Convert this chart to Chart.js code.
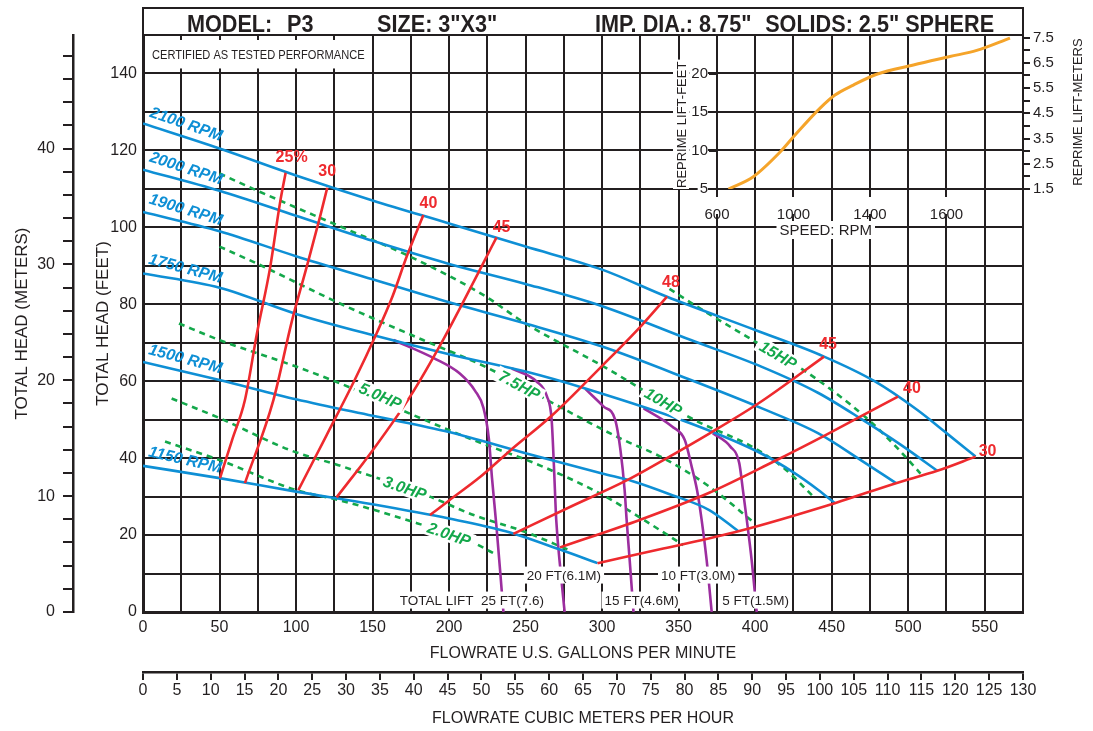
<!DOCTYPE html>
<html lang="en">
<head>
<meta charset="utf-8">
<title>P3 performance curve</title>
<script src="https://cdn.jsdelivr.net/npm/chart.js@4.4.1/dist/chart.umd.min.js"></script>
<style>
  html, body { margin: 0; padding: 0; background: #fff; }
  #wrap { position: relative; width: 1093px; height: 731px; }
  canvas { position: absolute; top: 0; }
  #main { left: 0; }
  #inset { left: 640px; }
</style>
</head>
<body>
<div id="wrap">
  <canvas id="main" width="1093" height="731"></canvas>
  <canvas id="inset" width="453" height="250"></canvas>
</div>
<script>
// values, [gpm, total head ft]
const rpm2100 = [[0,127],[50,120.5],[100,113.5],[150,107],[200,101],[250,95],[300,89],[342,82],[400,73.3],[445,66.4],[478,60],[506,52.5],[525,46.5],[544,40.4]];
const rpm2000 = [[0,115],[50,109.5],[100,103],[150,96.5],[200,90.5],[250,85.3],[300,79.5],[358,70.7],[404,63.8],[441,57],[470,50],[495,43.5],[519,36.7]];
const rpm1900 = [[0,104],[50,99],[100,92.5],[150,86.5],[200,80.5],[250,75],[300,69],[358,60.3],[404,53],[441,46.5],[469,39.5],[492,33.5]];
const rpm1750 = [[0,88],[50,84.3],[100,77.5],[150,72],[200,67],[250,62.5],[289,58.1],[358,49],[404,41.2],[425,36.3],[441,31.8],[452,28.3]];
const rpm1500 = [[0,65],[50,60.3],[100,55.3],[150,51],[200,46.8],[250,41.3],[300,36],[320,34],[345,30.5],[370,26.5],[389,21]];
const rpm1150 = [[0,38],[50,34.8],[100,31.3],[150,28],[200,24.3],[237,21],[272,16.3],[297,12.7]];

const eff25a = [[50.3,34.8],[58.2,44.7],[66.6,55.1],[74.5,72.5],[83,89.4],[89.5,106.3],[93.2,114.2]];
const eff30a = [[66.6,33.5],[85.2,55.1],[97.2,75.5],[107,89.8],[115.7,102.8],[120.4,110.3]];
const eff40a = [[101.5,31.7],[120,46],[138.3,60.3],[152.6,72.4],[163,82],[172.3,92.4],[183.2,103.2]];
const eff45a = [[126.5,29.8],[150,42],[174.5,56],[196,70.7],[220,88.9],[231,97.4]];
const eff48 = [[187.5,25.2],[200,29],[220,35],[240,42],[267,51],[300,64],[326,74.6],[342.4,82]];
const eff45b = [[242,20.3],[280,27.5],[315,34],[340,39.5],[370,46.4],[402,54.2],[445,66.4]];
const eff40b = [[272.5,16.8],[325,24],[370,31],[411.5,39],[446,46],[493.3,56]];
const eff30b = [[297,12.7],[340,16.5],[389,21],[452,28.3],[492,33.5],[519,36.7],[544,40.4]];

const hp15 = [[344,84],[362,79.4],[400,70.3],[430,63.3],[450,57.7],[474,50],[492,43],[508,36]];
const hp10 = [[50,114],[72,110],[129,100.2],[174.5,92.4],[222,82.5],[250,75],[301,63.8],[358.5,50.3],[400,42.5],[420,37],[438,30]];
const hp75 = [[50,95],[76.5,90.2],[128.7,80.2],[183,70.7],[225,63.5],[264,55.1],[312,45.1],[340,40],[370,32.6],[400,23]];
const hp5 = [[23.5,75],[50,70.7],[100,63.8],[129,59.4],[170,52.3],[216,44.7],[260,38],[300,30.5],[327,24],[353,17.4]];
const hp3 = [[18.7,55.5],[50,50.4],[96,42.1],[129,38],[187.5,30],[216,25.2],[248.5,21],[279,16]];
const hp2 = [[14.4,44.3],[50,39.5],[100,31.7],[129,29],[179,23.1],[216,18],[229,15.3]];

const lift25 = [[163.6,70.7],[190,66],[207,62],[217,57.5],[222.5,53],[226,45],[228,35],[231,22],[233.5,10],[235.5,0]];
const lift20 = [[241,63.3],[257,60],[264,56],[267,50],[268.5,38],[270,24],[273,10],[275.5,0]];
const lift15 = [[289,58],[301,53.4],[308.5,50],[312,42],[314.7,31.7],[316,24],[318,13.5],[320.5,0]];
const lift10 = [[327,53],[345.7,48.2],[354,44.7],[358.5,37.8],[362,31.7],[365,24],[368.3,13.5],[371.6,0]];
const lift5 = [[372.3,46.5],[383.8,43],[389.6,38.7],[392,31.7],[394.5,24],[397.7,13.5],[401,0]];

// reprime lift inset
const insetRpm = [660,790,930,1008,1139,1217,1313,1435,1627,1818,1958,2132];
const insetLift = [5,6.6,9.8,12.0,15.5,17.2,18.5,19.9,21.1,22.2,23.0,24.6];
const insetSpeedTicks = [600,1000,1400,1800];
const insetSpeedLabels = ['600','1000','1400','1600'];
const insetFeetTicks = [5,10,15,20];
const insetMeterTicks = [1.5,2,2.5,3,3.5,4,4.5,5,5.5,6,6.5,7,7.5];

const titleParts = [['MODEL:', 0.05], ['P3', 0.1636], ['SIZE: 3"X3"', 0.266], ['IMP. DIA.: 8.75"', 0.5136], ['SOLIDS: 2.5" SPHERE', 0.707]];
const certText = 'CERTIFIED AS TESTED PERFORMANCE';

const INK = '#231f20';
const BLUE = '#0e8fd5';
const RED = '#ee2a2e';
const GREEN = '#14a84b';
const PURPLE = '#9c2e9f';
const ORANGE = '#f5a42a';
const FONT = "'Liberation Sans', Arial, Helvetica, sans-serif";

Chart.defaults.font.family = FONT;
Chart.defaults.color = INK;

const rpmCurves = [
  { text: '2100 RPM', data: rpm2100, rot: 19 },
  { text: '2000 RPM', data: rpm2000, rot: 18 },
  { text: '1900 RPM', data: rpm1900, rot: 17 },
  { text: '1750 RPM', data: rpm1750, rot: 15 },
  { text: '1500 RPM', data: rpm1500, rot: 15 },
  { text: '1150 RPM', data: rpm1150, rot: 13 }
];
const effCurves = [
  { text: '25%', data: eff25a, dx: 6, dy: -15 },
  { text: '30', data: eff30a, dx: 0, dy: -16 },
  { text: '40', data: eff40a, dx: 5, dy: -11 },
  { text: '45', data: eff45a, dx: 5, dy: -10 },
  { text: '48', data: eff48, dx: 4, dy: -14 },
  { text: '45', data: eff45b, dx: 4, dy: -12 },
  { text: '40', data: eff40b, dx: 14, dy: -8 },
  { text: '30', data: eff30b, dx: 12, dy: -5 }
];
const hpCurves = [
  { text: '15HP', data: hp15, at: 415 },
  { text: '10HP', data: hp10, at: 340 },
  { text: '7.5HP', data: hp75, at: 246 },
  { text: '5.0HP', data: hp5, at: 155, dy: -5 },
  { text: '3.0HP', data: hp3, at: 171 },
  { text: '2.0HP', data: hp2, at: 200 }
];
const liftCurves = [
  { text: '25 FT(7.6)', prefix: 'TOTAL LIFT  ', data: lift25, row: 3.1, dx: 10 },
  { text: '20 FT(6.1M)', data: lift20, row: 9.6, dx: 3 },
  { text: '15 FT(4.6M)', data: lift15, row: 3.1, dx: 9 },
  { text: '10 FT(3.0M)', data: lift10, row: 9.6, dx: -10 },
  { text: '5 FT(1.5M)', data: lift5, row: 3.1, dx: 0 }
];

const toXY = a => a.map(p => ({ x: p[0], y: p[1] }));

function headAt(data, g) {
  for (let i = 1; i < data.length; i++) {
    const [x0, y0] = data[i - 1], [x1, y1] = data[i];
    if (g <= x1) return y0 + (y1 - y0) * (g - x0) / (x1 - x0);
  }
  return data[data.length - 1][1];
}

function gpmAtHead(data, h) {
  for (let i = 1; i < data.length; i++) {
    const [x0, y0] = data[i - 1], [x1, y1] = data[i];
    if ((y0 - h) * (y1 - h) <= 0) return x0 + (x1 - x0) * (h - y0) / (y1 - y0);
  }
  return data[data.length - 1][0];
}

const line = (data, color, order, extra) => Object.assign({
  data: toXY(data), showLine: true, borderColor: color, borderWidth: 2.6,
  pointRadius: 0, pointHoverRadius: 0, fill: false,
  cubicInterpolationMode: 'monotone', order
}, extra);

const datasets = [
  ...effCurves.map(c => line(c.data, RED, 0)),
  ...rpmCurves.map(c => line(c.data, BLUE, 1)),
  ...liftCurves.map(c => line(c.data, PURPLE, 2)),
  ...hpCurves.map(c => line(c.data, GREEN, 3, { borderDash: [6, 5], borderWidth: 2.6 }))
];

const curveLabels = {
  id: 'curveLabels',
  beforeDatasetsDraw(chart) {
    const { ctx } = chart;
    const sx = chart.scales.x, sy = chart.scales.y;
    const l = sx.getPixelForValue(0) + 2, r = sx.getPixelForValue(150) - 1;
    const t = sy.getPixelForValue(150) + 5, b = sy.getPixelForValue(140) - 5;
    ctx.save();
    ctx.fillStyle = '#fff';
    ctx.fillRect(l, t, r - l, b - t);
    ctx.font = '13px ' + FONT;
    const w = ctx.measureText(certText).width;
    const k = Math.min(1, (r - l - 14) / w);
    ctx.translate((l + r) / 2, (t + b) / 2);
    ctx.scale(k, 1);
    ctx.fillStyle = INK;
    ctx.textAlign = 'center';
    ctx.textBaseline = 'middle';
    ctx.fillText(certText, 0, 1);
    ctx.restore();
  },
  afterDatasetsDraw(chart) {
    const { ctx } = chart;
    const sx = chart.scales.x, sy = chart.scales.y;
    const P = (g, h) => [sx.getPixelForValue(g), sy.getPixelForValue(h)];
    ctx.save();
    ctx.textAlign = 'center';
    ctx.textBaseline = 'middle';

    ctx.font = 'italic bold 16px ' + FONT;
    ctx.fillStyle = BLUE;
    rpmCurves.forEach(c => {
      const [x, y] = P(25, headAt(c.data, 25));
      ctx.save();
      ctx.translate(x + 1, y);
      ctx.rotate(c.rot * Math.PI / 180);
      ctx.fillText(c.text, 0, -12);
      ctx.restore();
    });

    hpCurves.forEach(c => {
      const [x0, y0] = P(c.at - 8, headAt(c.data, c.at - 8));
      const [x1, y1] = P(c.at + 8, headAt(c.data, c.at + 8));
      const [x, y] = P(c.at, headAt(c.data, c.at));
      const w = ctx.measureText(c.text).width;
      ctx.save();
      ctx.translate(x, y + (c.dy || 0));
      ctx.rotate(Math.atan2(y1 - y0, x1 - x0));
      ctx.fillStyle = '#fff';
      ctx.fillRect(-w / 2 - 4, -8, w + 8, 16);
      ctx.fillStyle = GREEN;
      ctx.fillText(c.text, 0, 1);
      ctx.restore();
    });

    ctx.font = 'bold 16px ' + FONT;
    ctx.fillStyle = RED;
    effCurves.forEach(c => {
      const p = c.data[c.data.length - 1];
      const [x, y] = P(p[0], p[1]);
      ctx.fillText(c.text, x + c.dx, y + c.dy);
    });

    ctx.font = '13.5px ' + FONT;
    ctx.textAlign = 'left';
    liftCurves.forEach(c => {
      const [x, y] = P(gpmAtHead(c.data, c.row), c.row);
      const w = ctx.measureText(c.text).width;
      const pw = c.prefix ? ctx.measureText(c.prefix).width : 0;
      const left = x + c.dx - w / 2 - pw;
      ctx.fillStyle = '#fff';
      ctx.fillRect(left - 3, y - 8.5, w + pw + 6, 17);
      ctx.fillStyle = INK;
      ctx.fillText((c.prefix || '') + c.text, left, y + 1);
    });
    ctx.restore();
  }
};

const titleBox = {
  id: 'titleBox',
  afterDraw(chart) {
    const { ctx, chartArea: a } = chart;
    const top = 8;
    ctx.save();
    ctx.strokeStyle = INK;
    ctx.lineWidth = 2;
    ctx.strokeRect(a.left, top, a.right - a.left, a.top - top);
    ctx.fillStyle = INK;
    ctx.font = 'bold 23px ' + FONT;
    ctx.textBaseline = 'alphabetic';
    titleParts.forEach(([text, f]) => {
      ctx.save();
      ctx.translate(a.left + f * (a.right - a.left), 32);
      ctx.scale(0.94, 1);
      ctx.fillText(text, 0, 0);
      ctx.restore();
    });
    ctx.restore();
  }
};

const gridDark = { color: INK, lineWidth: 2 };

new Chart(document.getElementById('main'), {
  type: 'scatter',
  data: { datasets },
  options: {
    responsive: false,
    animation: false,
    events: [],
    layout: { padding: { top: 35, right: 70, bottom: 0, left: 0 } },
    plugins: { legend: { display: false }, tooltip: { enabled: false } },
    scales: {
      x: {
        type: 'linear', position: 'bottom', min: 0, max: 575, weight: 0,
        afterFit: s => { s.height = 60; },
        grid: { ...gridDark, drawTicks: false },
        border: { color: INK, width: 3 },
        ticks: { stepSize: 25, autoSkip: false, maxRotation: 0, padding: 6, font: { size: 16 },
                 callback: v => v % 50 === 0 ? v : '' },
        title: { display: true, text: 'FLOWRATE U.S. GALLONS PER MINUTE', font: { size: 16 },
                 padding: { top: 0, bottom: 9 } }
      },
      m3: {
        type: 'linear', axis: 'x', position: 'bottom', min: 0, max: 130, weight: 1,
        afterFit: s => { s.height = 59; },
        grid: { ...gridDark, drawOnChartArea: false, drawTicks: true, tickLength: 8 },
        border: { color: INK, width: 2.5 },
        ticks: { stepSize: 5, autoSkip: false, maxRotation: 0, padding: 1, font: { size: 16 } },
        title: { display: true, text: 'FLOWRATE CUBIC METERS PER HOUR', font: { size: 16 },
                 padding: { top: 0, bottom: 3 } }
      },
      y: {
        type: 'linear', position: 'left', min: 0, max: 150, weight: 0,
        afterFit: s => { s.width = 70; },
        grid: { ...gridDark, drawTicks: false },
        border: { color: INK, width: 3 },
        ticks: { stepSize: 10, autoSkip: false, padding: 6, font: { size: 16 },
                 callback: v => v % 20 === 0 ? v : '' },
        title: { display: true, text: 'TOTAL HEAD (FEET)', font: { size: 17 }, padding: { top: 20, bottom: 0 } }
      },
      ym: {
        type: 'linear', axis: 'y', position: 'left', min: 0, max: 49.8, weight: 1,
        afterFit: s => { s.width = 73; },
        grid: { ...gridDark, drawOnChartArea: false, drawTicks: true, tickLength: 10 },
        border: { color: INK, width: 2.5 },
        ticks: { stepSize: 2, autoSkip: false, includeBounds: false, padding: 8, font: { size: 16 },
                 callback: v => v % 10 === 0 ? v : '' },
        title: { display: true, text: 'TOTAL HEAD (METERS)', font: { size: 17 }, padding: { top: 12, bottom: 0 } }
      }
    }
  },
  plugins: [curveLabels, titleBox]
});

// inset: reprime lift vs speed, drawn on a transparent canvas over the grid
const insetDecor = {
  id: 'insetDecor',
  beforeDraw(chart) {
    const { ctx } = chart;
    const sx = chart.scales.x, sy = chart.scales.y;
    ctx.save();
    ctx.fillStyle = '#fff';
    ctx.font = '15px ' + FONT;
    insetSpeedTicks.forEach((v, i) => {
      const w = ctx.measureText(insetSpeedLabels[i]).width;
      ctx.fillRect(sx.getPixelForValue(v) - w / 2 - 2, sx.top + 8, w + 4, 17);
    });
    insetFeetTicks.forEach(v => {
      const w = ctx.measureText(String(v)).width;
      ctx.fillRect(sy.right - 9 - w - 2, sy.getPixelForValue(v) - 8, w + 2, 16);
    });
    // left title
    ctx.font = '13px ' + FONT;
    const tw = ctx.measureText('REPRIME LIFT-FEET').width;
    const tx = sy.left + 41, ty = sy.bottom - 1;
    ctx.fillRect(tx - 8, ty - tw - 2, 16, tw + 3);
    ctx.save();
    ctx.translate(tx, ty);
    ctx.rotate(-Math.PI / 2);
    ctx.fillStyle = INK;
    ctx.textAlign = 'left';
    ctx.textBaseline = 'middle';
    ctx.fillText('REPRIME LIFT-FEET', 0, 1);
    ctx.restore();
    // right title
    const sm = chart.scales.ym;
    ctx.save();
    ctx.translate(sm.right - 16, (sm.top + sm.bottom) / 2);
    ctx.rotate(-Math.PI / 2);
    ctx.fillStyle = INK;
    ctx.textAlign = 'center';
    ctx.textBaseline = 'middle';
    ctx.fillText('REPRIME LIFT-METERS', 0, 1);
    ctx.restore();
    // bottom title
    ctx.font = '15px ' + FONT;
    const cx = (sx.getPixelForValue(insetSpeedTicks[0]) + sx.getPixelForValue(insetSpeedTicks[insetSpeedTicks.length - 1])) / 2 - 6;
    const cy = sx.top + 41;
    const bw = ctx.measureText('SPEED: RPM').width;
    ctx.fillStyle = '#fff';
    ctx.fillRect(cx - bw / 2 - 3, cy - 9, bw + 6, 18);
    ctx.fillStyle = INK;
    ctx.textAlign = 'center';
    ctx.textBaseline = 'middle';
    ctx.fillText('SPEED: RPM', cx, cy + 1);
    ctx.restore();
  }
};

new Chart(document.getElementById('inset'), {
  type: 'scatter',
  data: {
    datasets: [{
      data: insetRpm.map((r, i) => ({ x: r, y: insetLift[i] })),
      showLine: true, borderColor: ORANGE, borderWidth: 3, pointRadius: 0,
      cubicInterpolationMode: 'monotone'
    }]
  },
  options: {
    responsive: false,
    animation: false,
    events: [],
    layout: { padding: { top: 35, right: 0, bottom: 0, left: 0 } },
    plugins: { legend: { display: false }, tooltip: { enabled: false } },
    scales: {
      x: {
        type: 'linear', position: 'bottom', min: 600, max: 2200,
        afterFit: s => { s.height = 61; },
        afterBuildTicks: s => { s.ticks = insetSpeedTicks.map(v => ({ value: v })); },
        grid: { display: false },
        border: { display: false },
        ticks: { padding: 9, autoSkip: false, maxRotation: 0, font: { size: 15 },
                 callback: (v, i) => insetSpeedLabels[i] }
      },
      y: {
        type: 'linear', position: 'left', min: 5, max: 25,
        afterFit: s => { s.width = 77; },
        afterBuildTicks: s => { s.ticks = insetFeetTicks.map(v => ({ value: v })); },
        grid: { ...gridDark, drawOnChartArea: false, drawTicks: true, tickLength: 8 },
        border: { display: false },
        ticks: { padding: 1, autoSkip: false, font: { size: 15 } }
      },
      ym: {
        type: 'linear', axis: 'y', position: 'right', min: 1.5, max: 7.6,
        afterFit: s => { s.width = 70; },
        afterBuildTicks: s => { s.ticks = insetMeterTicks.map(v => ({ value: v })); },
        grid: { ...gridDark, drawOnChartArea: false, drawTicks: true, tickLength: 7 },
        border: { display: false },
        ticks: { padding: 3, autoSkip: false, font: { size: 15 },
                 callback: v => Math.round(v * 2) % 2 === 1 ? v.toFixed(1) : '' }
      }
    }
  },
  plugins: [insetDecor]
});
</script>
</body>
</html>
